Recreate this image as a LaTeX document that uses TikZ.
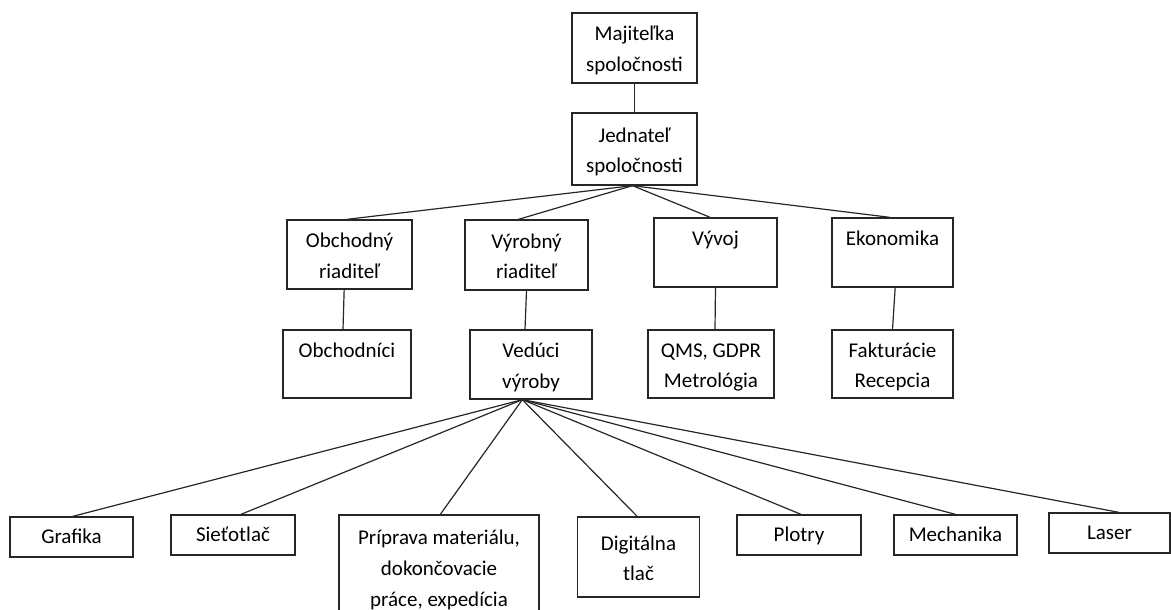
\documentclass[tikz,border=0pt]{standalone}
\usepackage{fontspec}
\setmainfont{Carlito}
\newcommand{\firstln}{\rule{0pt}{19.4pt}}
\newcommand{\lastln}{\rule[-6.9pt]{0pt}{6.9pt}}
\newcommand{\oneln}{\rule[-6.9pt]{0pt}{23.5pt}}
\begin{document}
\begin{tikzpicture}[x=0.75pt,y=-0.75pt,
  bx/.style 2 args={draw=black!85, line width=1pt, inner sep=0pt, align=center,
    minimum width=#1*0.75pt, minimum height=#2*0.75pt,
    font=\fontsize{15.75}{23}\selectfont, text=black},
  link/.style={draw=black!85, line width=0.9pt}]
\useasboundingbox (0,0) rectangle (1171,610);
% top
\node[bx={125}{70}] (maj) at (634.5,48) {\firstln Majiteľka\\spoločnosti\lastln};
\node[bx={125}{72}] (jed) at (634.5,149) {\firstln Jednateľ\\spoločnosti\lastln};
% second level
\node[bx={125}{69}] (obr) at (349.5,254.5) {\firstln Obchodný\\riaditeľ\lastln};
\node[bx={123}{70}] (vyr) at (526.5,255) {\firstln Výrobný\\riaditeľ\lastln};
\node[bx={123}{69}] (vyv) at (715.5,252.5) {\firstln Vývoj\\\lastln};
\node[bx={121}{69}] (eko) at (892.5,252.5) {\firstln Ekonomika\\\lastln};
% third level
\node[bx={128}{68}] (obi) at (347,364) {\firstln Obchodníci\\\lastln};
\node[bx={122}{69}] (ved) at (531,364.5) {\firstln Vedúci\\výroby\lastln};
\node[bx={126}{68}] (qms) at (711,364) {\firstln QMS, GDPR\\Metrológia\lastln};
\node[bx={121}{68}] (fak) at (892.5,364) {\firstln Fakturácie\\Recepcia\lastln};
% bottom row
\node[bx={123}{40}] (gra) at (71.5,537) {\oneln Grafika};
\node[bx={124}{40}] (sie) at (233,535) {\oneln Sieťotlač};
\node[bx={200}{104}] (pri) at (439,567) {\firstln Príprava materiálu,\\dokončovacie\\práce, expedícia\lastln};
\node[bx={122}{80}] (dig) at (638.5,557) {\firstln Digitálna\\tlač\lastln};
\node[bx={124}{40}] (plo) at (799,535) {\oneln Plotry};
\node[bx={123}{40}] (mec) at (955.5,535) {\oneln Mechanika};
\node[bx={121}{40}] (las) at (1109.5,533) {\oneln Laser};
% connectors
\draw[link] (maj.south) -- (jed.north);
\coordinate (js) at ([xshift=-1.5pt]jed.south);
\draw[link] (js) -- ([xshift=-2pt]obr.north);
\draw[link] (js) -- ([xshift=-6pt]vyr.north);
\draw[link] (js) -- ([xshift=-4pt]vyv.north);
\draw[link] (js) -- ([xshift=-2pt]eko.north);
\draw[link] ([xshift=-4pt]obr.south) -- ([xshift=-3pt]obi.north);
\draw[link] (vyr.south) -- ([xshift=-4.5pt]ved.north);
\draw[link] (vyv.south) -- ([xshift=3pt]qms.north);
\draw[link] ([xshift=2pt]eko.south) -- (fak.north);
\coordinate (vs) at ([xshift=-6.5pt]ved.south);
\draw[link] (vs) -- ([xshift=1pt]gra.north);
\draw[link] (vs) -- ([xshift=6pt]sie.north);
\draw[link] (vs) -- ([xshift=1pt]pri.north);
\draw[link] (vs) -- ([xshift=-1pt]dig.north);
\draw[link] (vs) -- ([xshift=1.5pt]plo.north);
\draw[link] (vs) -- (mec.north);
\draw[link] (vs) -- ([xshift=7pt]las.north);
\end{tikzpicture}
\end{document}
